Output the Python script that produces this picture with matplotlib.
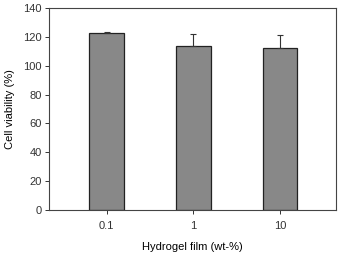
import numpy as np
import matplotlib
matplotlib.use('Agg')
import matplotlib.pyplot as plt

plt.rcParams['font.family'] = ['Liberation Sans', 'DejaVu Sans']

# data
categories = ['0.1', '1', '10']
viability = [122.4, 113.6, 112.3]
err_up = [1.2, 8.6, 8.7]

fig = plt.figure(figsize=(3.4, 2.54), dpi=100)
ax = fig.add_axes([0.144, 0.173, 0.844, 0.796])

x = np.arange(len(categories))
ax.bar(x, viability, width=0.40, color='#888888', edgecolor='#222222', linewidth=0.9, zorder=2)
ax.errorbar(x, viability, yerr=[[0] * len(x), err_up], fmt='none', ecolor='#333333',
            elinewidth=0.8, capsize=2.2, capthick=0.8, zorder=3)

ax.set_xlim(-0.665, 2.645)
ax.set_ylim(0, 140)
ax.set_yticks(range(0, 141, 20))
ax.set_xticks(x)
ax.set_xticklabels(categories)
ax.tick_params(axis='both', labelsize=8, length=3, width=0.7, direction='out', colors='#333333')
ax.tick_params(axis='x', pad=5)
ax.tick_params(axis='y', pad=2)
for s in ax.spines.values():
    s.set_linewidth(0.8)
    s.set_color('#444444')

ax.set_xlabel('Hydrogel film (wt-%)', fontsize=8, labelpad=8)
ax.set_ylabel('Cell viability (%)', fontsize=8, labelpad=6)

fig.savefig('out.png', dpi=100)
